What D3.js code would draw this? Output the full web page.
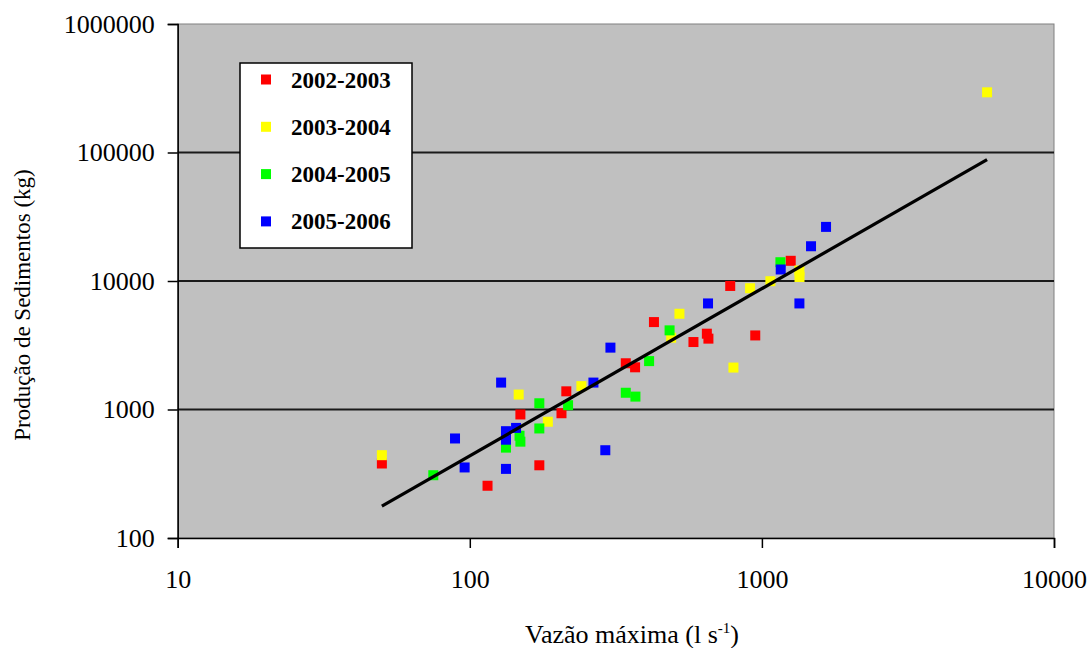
<!DOCTYPE html>
<html>
<head>
<meta charset="utf-8">
<script src="https://cdn.jsdelivr.net/npm/d3@7"></script>
<style>
  html, body { margin: 0; padding: 0; background: #fff; }
  svg { display: block; }
  text { font-family: "Liberation Serif", "Times New Roman", serif; fill: #000; }
</style>
</head>
<body>
<svg id="chart" width="1088" height="648"></svg>
<script>
// Peak discharge (l/s) and sediment yield (kg) per hydrological year
const q2002 = [50, 115, 149, 173, 206, 214, 342, 368, 427, 583, 648, 656, 779, 949, 1255];
const s2002 = [380, 255, 915, 368, 935, 1385, 2290, 2130, 4790, 3350, 3890, 3560, 9150, 3770, 14360];

const q2003 = [50, 147, 185, 241, 489, 522, 799, 911, 1069, 1344, 1345, 5900];
const s2003 = [441, 1307, 803, 1520, 3620, 5560, 2120, 8780, 9960, 12070, 10740, 294000];

const q2004 = [75, 133, 148, 149, 173, 173, 217, 342, 369, 411, 483, 1157];
const s2004 = [308, 505, 625, 562, 1118, 712, 1080, 1350, 1260, 2380, 4130, 14000];

const q2005 = [89, 96, 128, 133, 133, 144, 133, 265, 291, 303, 654, 1160, 1344, 1473, 1658];
const s2005 = [595, 354, 1620, 678, 582, 719, 345, 1620, 482, 3030, 6690, 12290, 6690, 18640, 26370];

// Power-law fit (straight on log-log axes), end points
const trendQ = [50, 5900];
const trendS = [177, 87900];

const seriesNames = ["2002-2003", "2003-2004", "2004-2005", "2005-2006"];
const seriesColors = ["#ff0000", "#ffff00", "#00ff00", "#0000ff"];

const xTicks = [10, 100, 1000, 10000];
const yTicks = [100, 1000, 10000, 100000, 1000000];

const svg = d3.select("#chart");
const plot = { left: 177.7, right: 1054, top: 24, bottom: 538 };

const x = d3.scaleLog().domain([10, 10000]).range([plot.left, plot.right]);
const y = d3.scaleLog().domain([100, 1000000]).range([plot.bottom, plot.top]);

// plot area
svg.append("rect")
  .attr("x", plot.left).attr("y", plot.top)
  .attr("width", plot.right - plot.left).attr("height", plot.bottom - plot.top)
  .attr("fill", "#c0c0c0").attr("stroke", "#808080").attr("stroke-width", 1);

// horizontal gridlines
svg.append("g").selectAll("line")
  .data(yTicks.slice(1, -1))
  .join("line")
  .attr("x1", plot.left).attr("x2", plot.right)
  .attr("y1", d => y(d)).attr("y2", d => y(d))
  .attr("stroke", "#1a1a1a").attr("stroke-width", 1.8);

// axes
const fmt = d => String(d);
const xAxis = svg.append("g")
  .attr("transform", `translate(0,${plot.bottom})`)
  .call(d3.axisBottom(x).tickValues(xTicks).tickFormat(fmt).tickSize(10).tickPadding(22));
const yAxis = svg.append("g")
  .attr("transform", `translate(${plot.left},0)`)
  .call(d3.axisLeft(y).tickValues(yTicks).tickFormat(fmt).tickSize(10).tickPadding(13));

[xAxis, yAxis].forEach(g => {
  g.select(".domain").attr("stroke", "#000").attr("stroke-width", 1.5);
  g.selectAll(".tick line").attr("stroke", "#000").attr("stroke-width", 1.5);
  g.selectAll(".tick text")
    .attr("font-family", "Liberation Serif, serif")
    .attr("font-size", 26).attr("fill", "#000");
});

// markers, series drawn in order so later years sit on top
const series = [
  { q: q2002, s: s2002 },
  { q: q2003, s: s2003 },
  { q: q2004, s: s2004 },
  { q: q2005, s: s2005 }
];
const m = 10;
series.forEach((ser, i) => {
  svg.append("g").selectAll("rect")
    .data(ser.q.map((v, k) => [v, ser.s[k]]))
    .join("rect")
    .attr("x", d => x(d[0]) - m / 2)
    .attr("y", d => y(d[1]) - m / 2)
    .attr("width", m).attr("height", m)
    .attr("fill", seriesColors[i]);
});

// fitted line
svg.append("path")
  .datum(trendQ.map((v, k) => [v, trendS[k]]))
  .attr("d", d3.line().x(d => x(d[0])).y(d => y(d[1])))
  .attr("fill", "none").attr("stroke", "#000").attr("stroke-width", 3.2);

// legend
const lg = svg.append("g");
lg.append("rect")
  .attr("x", 240).attr("y", 63).attr("width", 172).attr("height", 185)
  .attr("fill", "#fff").attr("stroke", "#000").attr("stroke-width", 1.5);
seriesNames.forEach((name, i) => {
  const cy = 79.5 + i * 47.3;
  lg.append("rect")
    .attr("x", 266 - m / 2).attr("y", cy - m / 2).attr("width", m).attr("height", m)
    .attr("fill", seriesColors[i]);
  lg.append("text")
    .attr("x", 291).attr("y", cy).attr("dy", "0.35em")
    .attr("font-size", 23).attr("font-weight", "bold")
    .text(name);
});

// axis titles
svg.append("text")
  .attr("transform", "translate(30,305) rotate(-90)")
  .attr("text-anchor", "middle")
  .attr("font-size", 23)
  .text("Produção de Sedimentos (kg)");

const xt = svg.append("text")
  .attr("x", 632).attr("y", 643)
  .attr("text-anchor", "middle")
  .attr("font-size", 26);
xt.append("tspan").text("Vazão máxima (l s");
xt.append("tspan").attr("font-size", 15).attr("dy", -10).text("-1");
xt.append("tspan").attr("dy", 10).text(")");
</script>
</body>
</html>
